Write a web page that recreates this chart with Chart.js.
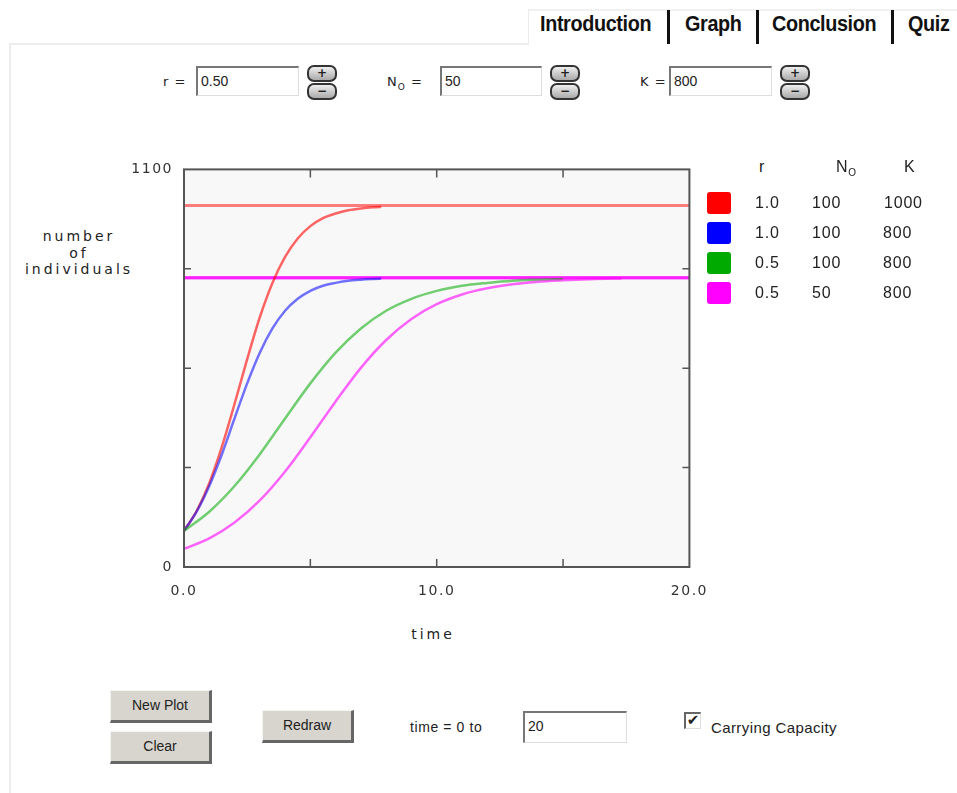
<!DOCTYPE html>
<html>
<head>
<meta charset="utf-8">
<script src="https://cdn.jsdelivr.net/npm/chart.js@4.4.1/dist/chart.umd.min.js"></script>
<style>
  body { margin: 0; background: #fff; font-family: "DejaVu Sans", sans-serif; color: #222; }
  #page { position: relative; width: 957px; height: 793px; overflow: hidden; }
  .abs { position: absolute; }
  .frame-top { left: 9px; top: 43px; width: 520px; height: 0; border-top: 2px solid #ececec; }
  .frame-left { left: 9px; top: 43px; width: 0; height: 760px; border-left: 2px solid #ececec; }
  .tabbox { left: 528px; top: 9px; width: 440px; height: 34px; border-left: 1px solid #ececec; border-top: 2px solid #f0f0f0; }
  .tab { top: 11px; font-family: "Liberation Sans", sans-serif; font-weight: bold; font-size: 22px; color: #111; transform: scaleX(0.9); transform-origin: left top; letter-spacing: -0.4px; }
  .bar { top: 10px; width: 3px; height: 34px; background: #111; }
  .lbl { font-size: 13px; color: #222; letter-spacing: 1px; }
  .field { height: 30px; background: #fff; border-top: 2px solid #777; border-left: 2px solid #777; border-right: 1px solid #ddd; border-bottom: 1px solid #ddd; box-sizing: border-box; font-family: "Liberation Sans", sans-serif; font-size: 14px; padding: 5px 3px; }
  .spin { width: 30px; height: 17px; box-sizing: border-box; border: 2px solid #333; border-radius: 7px; background: linear-gradient(#eee, #aaa); font-size: 12px; font-weight: bold; text-align: center; line-height: 12px; }
  .axis-txt { font-size: 14px; letter-spacing: 3px; text-align: center; color: #222; }
  .btn { height: 33px; box-sizing: border-box; background: #d8d5ce; border-top: 1px solid #f4f4f4; border-left: 1px solid #f4f4f4; border-right: 3px solid #666; border-bottom: 3px solid #666; font-family: "Liberation Sans", sans-serif; font-size: 14px; text-align: center; line-height: 29px; color: #222; }
  .leg { font-family: "Liberation Sans", sans-serif; font-size: 16px; letter-spacing: 0.8px; color: #222; }
  .sw { width: 24px; height: 22px; border-radius: 3px; }
  #chartWrap { left: 100px; top: 150px; width: 621px; height: 470px; }
</style>
</head>
<body>
<div id="page">
  <div class="abs frame-top"></div>
  <div class="abs frame-left"></div>
  <div class="abs tabbox"></div>
  <div class="abs tab" style="left:540px">Introduction</div>
  <div class="abs bar" style="left:667px"></div>
  <div class="abs tab" style="left:685px">Graph</div>
  <div class="abs bar" style="left:756px"></div>
  <div class="abs tab" style="left:772px">Conclusion</div>
  <div class="abs bar" style="left:891px"></div>
  <div class="abs tab" style="left:908px">Quiz</div>

  <!-- parameter inputs -->
  <div class="abs lbl" style="left:163px; top:74px">r =</div>
  <div class="abs field" style="left:196px; top:66px; width:103px">0.50</div>
  <div class="abs spin" style="left:307px; top:65px">+</div>
  <div class="abs spin" style="left:307px; top:83px">&minus;</div>

  <div class="abs lbl" style="left:387px; top:74px">N<sub style="font-size:9px">O</sub> =</div>
  <div class="abs field" style="left:440px; top:66px; width:102px">50</div>
  <div class="abs spin" style="left:550px; top:65px">+</div>
  <div class="abs spin" style="left:550px; top:83px">&minus;</div>

  <div class="abs lbl" style="left:640px; top:74px">K =</div>
  <div class="abs field" style="left:669px; top:66px; width:103px">800</div>
  <div class="abs spin" style="left:780px; top:65px">+</div>
  <div class="abs spin" style="left:780px; top:83px">&minus;</div>

  <!-- axis titles -->
  <div class="abs axis-txt" style="left:4px; top:228px; width:150px; line-height:16.5px">number<br>of<br>individuals</div>
  <div class="abs axis-txt" style="left:393px; top:626px; width:80px">time</div>

  <div id="chartWrap" class="abs"><canvas id="growthChart"></canvas></div>

  <!-- legend table -->
  <div class="abs leg" style="left:759px; top:158px">r</div>
  <div class="abs leg" style="left:836px; top:158px">N<sub style="font-size:10px">O</sub></div>
  <div class="abs leg" style="left:904px; top:158px">K</div>
  <div id="legendRows"></div>

  <!-- bottom controls -->
  <div class="abs btn" style="left:110px; top:690px; width:102px">New Plot</div>
  <div class="abs btn" style="left:110px; top:731px; width:102px">Clear</div>
  <div class="abs btn" style="left:262px; top:710px; width:92px">Redraw</div>
  <div class="abs lbl" style="left:410px; top:719px; font-family:'Liberation Sans',sans-serif; font-size:14px; letter-spacing:0.6px">time = 0 to</div>
  <div class="abs field" style="left:523px; top:711px; width:104px; height:32px">20</div>
  <div class="abs" style="left:684px; top:712px; width:17px; height:17px; box-sizing:border-box; border-top:2px solid #666; border-left:2px solid #666; border-right:1px solid #ddd; border-bottom:1px solid #ddd; font-size:15px; line-height:13px; text-align:center">&#10004;</div>
  <div class="abs" style="left:711px; top:719px; font-family:'Liberation Sans',sans-serif; font-size:15px; color:#222; letter-spacing:0.4px">Carrying Capacity</div>
</div>

<script>
// Data
const timeFast = [0, 0.5, 1, 1.5, 2, 2.5, 3, 3.5, 4, 4.5, 5, 5.5, 6, 6.5, 7, 7.5, 7.8];
const redN  = [100, 155, 232, 333, 451, 575, 691, 786, 858, 909, 943, 965, 978, 987, 992, 995, 996];
const blueN = [100, 153, 224, 312, 411, 508, 593, 660, 709, 742, 764, 778, 786, 792, 795, 797, 798];

const timeGreen = [0, 1, 2, 3, 4, 5, 6, 7, 8, 9, 10, 11, 12, 13, 14, 15];
const greenN = [100, 153, 224, 312, 411, 508, 593, 660, 709, 742, 764, 778, 786, 792, 795, 797];

const timeMagenta = [0, 1, 2, 3, 4, 5, 6, 7, 8, 9, 10, 11, 12, 13, 14, 15, 16, 17, 17.3];
const magentaN = [50, 79, 123, 184, 264, 359, 458, 551, 628, 686, 727, 754, 771, 782, 789, 793, 796, 798, 798];

// Legend / parameters per run
const rValues  = ['1.0', '1.0', '0.5', '0.5'];
const n0Values = ['100', '100', '100', '50'];
const kValues  = [1000, 800, 800, 800];
const timeMax = 20;
const yMax = 1100;

const swatchColors = ['#ff0000', '#0000ff', '#00aa00', '#ff00ff'];
const lineColors = ['rgba(255,0,0,0.6)', 'rgba(0,0,255,0.55)', 'rgba(0,170,0,0.55)', 'rgba(255,0,255,0.6)'];
const capColors  = ['rgba(255,40,40,0.6)', 'rgba(255,0,255,0.5)', 'rgba(255,0,255,0.5)', 'rgba(255,0,255,0.5)'];

// legend rows
const legendRows = document.getElementById('legendRows');
const kLeft = [884, 883, 883, 883];
rValues.forEach((r, i) => {
  const top = 192 + i * 30;
  legendRows.innerHTML +=
    `<div class="abs sw" style="left:707px; top:${top}px; background:${swatchColors[i]}"></div>` +
    `<div class="abs leg" style="left:755px; top:${top + 2}px">${r}</div>` +
    `<div class="abs leg" style="left:812px; top:${top + 2}px">${n0Values[i]}</div>` +
    `<div class="abs leg" style="left:${kLeft[i]}px; top:${top + 2}px">${kValues[i]}</div>`;
});

const toPoints = (ts, ns) => ts.map((t, i) => ({ x: t, y: ns[i] }));
const curves = [toPoints(timeFast, redN), toPoints(timeFast, blueN), toPoints(timeGreen, greenN), toPoints(timeMagenta, magentaN)];

const datasets = [];
// carrying capacity lines (drawn below the curves)
kValues.forEach((k, i) => {
  datasets.push({
    data: [{ x: 0, y: k }, { x: timeMax, y: k }],
    borderColor: capColors[i],
    borderWidth: 3,
    pointRadius: 0,
    order: 10 - i
  });
});
curves.forEach((pts, i) => {
  datasets.push({
    data: pts,
    borderColor: lineColors[i],
    borderWidth: 2.5,
    pointRadius: 0,
    cubicInterpolationMode: 'monotone',
    order: 4 - i
  });
});

// plot background, frame and inward tick marks
const frame = {
  id: 'frame',
  beforeDraw(chart) {
    const { ctx, chartArea: a } = chart;
    ctx.save();
    ctx.fillStyle = '#f8f8f8';
    ctx.fillRect(a.left, a.top, a.right - a.left, a.bottom - a.top);
    ctx.restore();
    ctx.letterSpacing = '1.5px';
  },
  afterDraw(chart) {
    const { ctx, chartArea: a, scales } = chart;
    ctx.save();
    ctx.strokeStyle = '#555';
    ctx.lineWidth = 2;
    ctx.strokeRect(a.left, a.top, a.right - a.left, a.bottom - a.top);
    ctx.lineWidth = 1.5;
    ctx.beginPath();
    scales.x.ticks.forEach(t => {
      if (t.value <= 0 || t.value >= timeMax) return;
      const px = scales.x.getPixelForValue(t.value);
      ctx.moveTo(px, a.bottom); ctx.lineTo(px, a.bottom - 8);
      ctx.moveTo(px, a.top); ctx.lineTo(px, a.top + 8);
    });
    scales.y.ticks.forEach(t => {
      if (t.value <= 0 || t.value >= yMax) return;
      const py = scales.y.getPixelForValue(t.value);
      ctx.moveTo(a.left, py); ctx.lineTo(a.left + 7, py);
      ctx.moveTo(a.right, py); ctx.lineTo(a.right - 7, py);
    });
    ctx.stroke();
    ctx.restore();
  }
};

const ctx = document.getElementById('growthChart').getContext('2d');
const growthChart = new Chart(ctx, {
  type: 'line',
  data: { datasets: datasets },
  options: {
    responsive: true,
    maintainAspectRatio: false,
    animation: false,
    layout: { padding: { left: 24, top: 16, right: 11, bottom: 13 } },
    plugins: { legend: { display: false }, tooltip: { enabled: false } },
    scales: {
      x: {
        type: 'linear', min: 0, max: timeMax,
        grid: { display: false, drawTicks: false },
        border: { display: false },
        afterFit: s => { s.height = 40; },
        ticks: {
          stepSize: 5, autoSkip: false, maxRotation: 0, padding: 16,
          color: '#333', font: { family: 'DejaVu Sans', size: 14 },
          callback: v => (v % 10 === 0 ? v.toFixed(1) : '')
        }
      },
      y: {
        min: 0, max: yMax,
        grid: { display: false, drawTicks: false },
        border: { display: false },
        afterFit: s => { s.width = 60; },
        ticks: {
          stepSize: 275, autoSkip: false, padding: 11,
          color: '#333', font: { family: 'DejaVu Sans', size: 14 },
          callback: v => (v === 0 || v === yMax ? String(v) : '')
        }
      }
    }
  },
  plugins: [frame]
});
</script>
</body>
</html>
